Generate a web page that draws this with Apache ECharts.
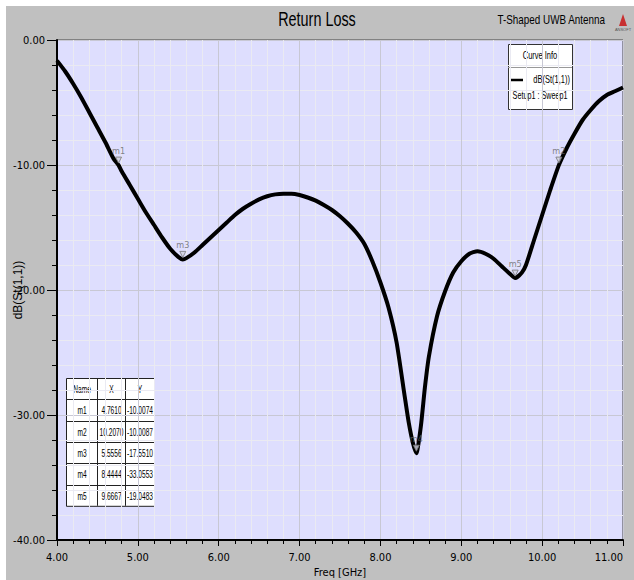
<!DOCTYPE html>
<html>
<head>
<meta charset="utf-8">
<script src="https://cdn.jsdelivr.net/npm/echarts@6/dist/echarts.min.js"></script>
<style>
html,body{margin:0;padding:0;background:#ffffff;}
#chart{position:absolute;left:0;top:0;width:634px;height:580px;}
</style>
</head>
<body>
<div id="chart"></div>
<script>
// ---- data ----
const freqGHz = [4.0, 4.1, 4.2, 4.3, 4.4, 4.5, 4.6, 4.7, 4.761, 4.8, 4.9, 5.0, 5.1, 5.2, 5.3, 5.4, 5.5, 5.5556, 5.6, 5.7, 5.8, 5.9, 6.0, 6.1, 6.2, 6.3, 6.4, 6.5, 6.6, 6.7, 6.8, 6.9, 7.0, 7.1, 7.2, 7.3, 7.4, 7.5, 7.6, 7.7, 7.8, 7.9, 8.0, 8.1, 8.2, 8.3, 8.35, 8.4, 8.4444, 8.5, 8.55, 8.6, 8.7, 8.8, 8.9, 9.0, 9.1, 9.2, 9.3, 9.4, 9.5, 9.6, 9.6667, 9.75, 9.8, 9.9, 10.0, 10.1, 10.207, 10.3, 10.4, 10.5, 10.6, 10.7, 10.8, 10.9, 11.0];
const dbS11 = [-1.65, -2.5, -3.5, -4.6, -5.8, -7.0, -8.2, -9.5, -10.0074, -10.5, -11.6, -12.7, -13.8, -14.8, -15.8, -16.7, -17.35, -17.551, -17.45, -17.0, -16.4, -15.8, -15.2, -14.6, -14.0, -13.5, -13.1, -12.75, -12.5, -12.35, -12.3, -12.3, -12.4, -12.6, -12.85, -13.2, -13.6, -14.1, -14.7, -15.4, -16.3, -17.7, -19.4, -21.4, -24.2, -28.5, -30.6, -32.2, -33.0553, -30.9, -27.8, -25.3, -22.1, -20.1, -18.6, -17.7, -17.1, -16.9, -17.1, -17.5, -18.1, -18.7, -19.0483, -18.6, -18.0, -16.0, -14.0, -12.0, -10.0087, -8.7, -7.5, -6.4, -5.6, -4.9, -4.4, -4.1, -3.8];
const markerNames = ['m1', 'm2', 'm3', 'm4', 'm5'];
const markerX = [4.7610, 10.2070, 5.5556, 8.4444, 9.6667];
const markerY = [-10.0074, -10.0087, -17.5510, -33.0553, -19.0483];
const xTicks = { min: 4, max: 11, step: 1 };
const yTicks = { min: -40, max: 0, step: 10 };

const NARROW = "'Liberation Sans Narrow', 'DejaVu Sans Condensed', 'Liberation Sans', Arial, sans-serif";
const SANS = "'Liberation Sans', Arial, sans-serif";

const chart = echarts.init(document.getElementById('chart'), null, { renderer: 'svg' });

function ntext(x, y, t, size, align, sx, color) {
  return { type: 'text', x: x, y: y, scaleX: sx, originX: 0, originY: 0,
    style: { text: t, fontSize: size, fontFamily: SANS, fill: color || '#000', align: align, verticalAlign: 'middle' } };
}

// marker table built from marker arrays
const tbl = { top: 378, cols: [66, 97, 125, 154], rowH: 21.3 };
const tableEls = [];
const nRows = markerNames.length + 1;
const tblBottom = tbl.top + tbl.rowH * nRows;
tableEls.push({ type: 'rect', shape: { x: tbl.cols[0] + 0.5, y: tbl.top + 0.5, width: tbl.cols[3] - tbl.cols[0], height: tblBottom - tbl.top }, style: { fill: '#ffffff', stroke: '#222', lineWidth: 1 } });
for (let r = 1; r < nRows; r++) {
  const y = Math.round(tbl.top + r * tbl.rowH) + 0.5;
  tableEls.push({ type: 'line', shape: { x1: tbl.cols[0], y1: y, x2: tbl.cols[3], y2: y }, style: { stroke: '#222', lineWidth: 1 } });
}
for (let c = 1; c < 3; c++) {
  tableEls.push({ type: 'line', shape: { x1: tbl.cols[c] + 0.5, y1: tbl.top, x2: tbl.cols[c] + 0.5, y2: tblBottom }, style: { stroke: '#222', lineWidth: 1 } });
}
const rowsText = [['Name', 'X', 'Y']].concat(markerNames.map((n, i) => [n, markerX[i].toFixed(4), markerY[i].toFixed(4)]));
rowsText.forEach((row, r) => {
  row.forEach((t, c) => {
    tableEls.push(ntext((tbl.cols[c] + tbl.cols[c + 1]) / 2 + 0.5, tbl.top + (r + 0.5) * tbl.rowH + 1, t, 10, 'center', 0.66));
  });
});

const option = {
  backgroundColor: '#ffffff',
  animation: false,
  graphic: [
    { type: 'rect', z: -10, shape: { x: 6, y: 6, width: 628, height: 574 }, style: { fill: '#c0c0c0' } },
    ntext(317, 19, 'Return Loss', 20, 'center', 0.72),
    ntext(605, 19, 'T-Shaped UWB Antenna', 13, 'right', 0.76),
    { type: 'polygon', shape: { points: [[619, 26], [623, 14], [627, 26]] }, style: { fill: '#c83030' } },
    { type: 'text', x: 623, y: 29, style: { text: 'ANSOFT', fontSize: 4, fontFamily: SANS, fill: '#555', align: 'center', verticalAlign: 'middle' } },
    // curve info box
    { type: 'group', z: 100, children: [
      { type: 'rect', shape: { x: 508.5, y: 44.5, width: 64, height: 65 }, style: { fill: '#ffffff', stroke: '#333', lineWidth: 1 } },
      { type: 'line', shape: { x1: 508, y1: 67.5, x2: 572, y2: 67.5 }, style: { stroke: '#999', lineWidth: 1 } },
      ntext(540, 56, 'Curve Info', 10, 'center', 0.75),
      { type: 'line', shape: { x1: 511, y1: 80, x2: 523, y2: 80 }, style: { stroke: '#000', lineWidth: 2.5 } },
      ntext(570, 80, 'dB(St(1,1))', 10, 'right', 0.75),
      ntext(540, 96, 'Setup1 : Sweep1', 10, 'center', 0.72)
    ] },
    { type: 'group', z: 100, children: tableEls }
  ],
  grid: { left: 57, right: 11, top: 40, bottom: 40, containLabel: false, outerBoundsMode: 'none', show: true, backgroundColor: '#dedefe', borderColor: '#444', borderWidth: 1 },
  xAxis: {
    type: 'value', min: xTicks.min, max: xTicks.max, interval: xTicks.step,
    name: 'Freq [GHz]', nameLocation: 'middle', nameGap: 27, nameMoveOverlap: false,
    nameTextStyle: { fontSize: 11, fontFamily: NARROW, color: '#000' },
    axisLine: { show: true, onZero: false, lineStyle: { color: '#000', width: 2 } },
    axisTick: { show: true, length: 6, lineStyle: { color: '#000', width: 1 } },
    minorTick: { show: true, splitNumber: 5, length: 4, lineStyle: { color: '#000' } },
    axisLabel: { fontSize: 11, fontFamily: NARROW, color: '#000', margin: 12, alignMaxLabel: 'right', formatter: v => v.toFixed(2) },
    splitLine: { show: true, lineStyle: { color: '#c8c8d4', width: 1 } },
    minorSplitLine: { show: true, lineStyle: { color: '#eaeaf2', width: 1 } }
  },
  yAxis: {
    type: 'value', min: yTicks.min, max: yTicks.max, interval: yTicks.step,
    name: 'dB(St(1,1))', nameLocation: 'middle', nameGap: 33, nameRotate: 90, nameMoveOverlap: false,
    nameTextStyle: { fontSize: 12, fontFamily: SANS, color: '#000' },
    axisLine: { show: true, onZero: false, lineStyle: { color: '#000', width: 2 } },
    axisTick: { show: true, length: 10, lineStyle: { color: '#000', width: 1 } },
    minorTick: { show: true, splitNumber: 5, length: 5, lineStyle: { color: '#000' } },
    axisLabel: { fontSize: 11, fontFamily: NARROW, color: '#000', margin: 12, formatter: v => v.toFixed(2) },
    splitLine: { show: true, lineStyle: { color: '#c8c8d4', width: 1 } },
    minorSplitLine: { show: true, lineStyle: { color: '#eaeaf2', width: 1 } }
  },
  series: [
    {
      name: 'dB(St(1,1))', type: 'line', data: freqGHz.map((f, i) => [f, dbS11[i]]),
      showSymbol: false, smooth: 0.2, lineStyle: { color: '#000', width: 4 }, z: 5
    },
    {
      name: 'markers', type: 'scatter', data: markerX.map((x, i) => ({ name: markerNames[i], value: [x, markerY[i]] })),
      symbol: 'triangle', symbolRotate: 180, symbolSize: 6, symbolOffset: [0, -5],
      itemStyle: { color: '#d0d0e0', borderColor: '#777', borderWidth: 1 },
      label: { show: true, position: 'top', distance: 1, formatter: p => p.name, fontSize: 9, fontFamily: NARROW, color: '#666' },
      z: 6
    }
  ]
};
chart.setOption(option);
</script>
</body>
</html>
